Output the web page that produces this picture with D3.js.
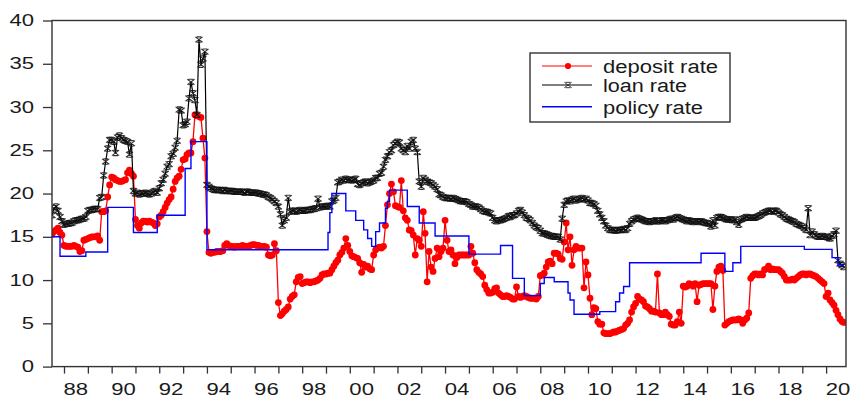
<!DOCTYPE html>
<html>
<head>
<meta charset="utf-8">
<script src="https://cdn.jsdelivr.net/npm/d3@7"></script>
<style>
  body { margin: 0; background: #fff; }
  svg { display: block; font-family: "Liberation Sans", Arial, sans-serif; }
</style>
</head>
<body>
<div id="chart"></div>
<script>
// monthly observations, first one is 1987M07
const firstMonth = new Date(1987, 6, 1);

const depositRate = [
  15.3, 15.6, 15.8, 16.0, 15.5, 15.2,
  14.0, 13.9, 13.9, 13.9, 13.9, 14.0, 13.9, 13.8, 13.3, 13.4, 14.6, 14.7,
  14.8, 14.9, 15.0, 15.0, 15.0, 15.1, 14.6, 17.9, 17.9, 18.0, 19.6, 21.0,
  21.9, 21.8, 21.6, 21.5, 21.4, 21.4, 21.5, 21.6, 22.4, 22.7, 22.3, 22.0,
  17.0, 16.3, 16.0, 16.6, 16.8, 16.8, 16.7, 16.8, 16.7, 16.6, 16.3, 16.5,
  17.3, 17.5, 17.9, 18.4, 18.9, 19.3, 19.6, 20.5, 21.4, 21.8, 22.0, 22.8,
  23.9, 24.0, 24.5, 24.7, 24.7, 26.0, 29.1, 29.0, 28.9, 28.8, 26.4, 24.1,
  15.6, 13.2, 13.1, 13.2, 13.2, 13.3, 13.3, 13.3, 13.4, 14.0, 14.2, 14.0,
  13.9, 13.9, 13.8, 13.9, 13.9, 13.9, 14.0, 13.9, 13.9, 13.9, 14.0, 14.1,
  14.1, 14.0, 14.0, 13.9, 13.9, 13.9, 13.8, 12.9, 12.8, 12.9, 14.2, 13.4,
  7.4, 5.9, 6.1, 6.4, 6.6, 6.9, 7.8, 8.1, 8.3, 9.8, 10.3, 10.4,
  9.6, 9.7, 9.8, 9.8, 9.7, 9.8, 9.8, 9.9, 10.0, 10.2, 10.6, 10.7,
  10.7, 10.8, 10.8, 11.2, 11.6, 12.0, 12.3, 12.9, 13.2, 13.7, 14.8, 14.0,
  13.3, 12.8, 12.7, 12.6, 12.5, 12.0, 10.9, 11.8, 11.5, 11.6, 11.3, 11.2,
  12.9, 13.5, 13.7, 13.8, 13.7, 13.9, 16.3, 18.7, 20.0, 21.1, 20.2, 18.6,
  18.5, 18.4, 21.5, 18.0, 17.2, 16.9, 15.8, 15.7, 15.2, 12.9, 14.8, 14.6,
  13.9, 17.9, 15.4, 9.8, 13.3, 11.5, 11.0, 12.5, 13.7, 12.7, 13.3, 13.7,
  16.9, 14.6, 13.3, 13.5, 12.9, 11.9, 12.6, 12.9, 12.9, 12.9, 12.9, 12.9,
  12.9, 13.9, 13.1, 12.0, 11.2, 10.9, 10.7, 10.4, 9.4, 8.9, 8.5, 8.5,
  8.6, 9.0, 9.1, 8.5, 8.3, 8.1, 8.1, 8.2, 8.1, 8.0, 7.8, 7.8,
  9.2, 8.1, 8.0, 8.1, 8.2, 8.1, 8.0, 7.9, 7.9, 7.9, 7.8, 8.1,
  10.5, 10.6, 10.8, 11.5, 12.1, 12.2, 11.9, 13.1, 13.1, 13.0, 12.5, 12.4,
  14.4, 16.6, 13.5, 15.0, 11.7, 13.5, 13.9, 13.7, 13.7, 13.7, 9.1, 12.1,
  10.6, 7.9, 6.0, 6.8, 6.7, 5.2, 4.9, 4.9, 3.9, 3.8, 3.8, 3.8,
  3.9, 4.0, 4.0, 4.1, 4.2, 4.3, 4.4, 4.8, 5.0, 5.4, 6.3, 6.9,
  7.3, 8.1, 7.8, 7.7, 7.5, 7.0, 6.9, 6.7, 6.4, 6.4, 6.3, 10.7,
  6.2, 6.0, 6.0, 6.3, 6.0, 5.8, 4.9, 4.8, 4.8, 5.2, 6.3, 5.0,
  9.3, 9.2, 9.3, 9.6, 9.5, 9.3, 9.6, 7.5, 9.4, 9.5, 9.6, 9.6,
  9.6, 9.6, 9.6, 6.6, 9.3, 11.0, 11.5, 11.6, 11.1, 4.8, 5.0, 5.2,
  5.3, 5.4, 5.4, 5.4, 5.5, 5.4, 5.0, 5.4, 5.6, 6.2, 10.2, 10.5,
  10.7, 10.7, 10.6, 10.7, 10.6, 11.2, 11.3, 11.6, 11.2, 11.3, 11.2, 11.2,
  11.2, 11.0, 10.8, 10.4, 10.0, 10.0, 10.0, 10.1, 10.0, 10.2, 10.4, 10.6,
  10.7, 10.7, 10.6, 10.7, 10.7, 10.6, 10.5, 10.4, 10.2, 10.0, 9.8, 9.6,
  8.1, 8.5, 7.7, 7.4, 7.1, 6.5, 6.0, 5.5, 5.2, 5.1
];

const loanRate = [
  17.5, 18.3, 18.5, 18.0, 17.3, 16.8,
  16.4, 16.5, 16.5, 16.6, 16.6, 16.8, 16.9, 16.9, 17.0, 17.1, 17.1, 17.3,
  18.0, 18.1, 18.1, 18.2, 18.2, 18.2, 19.5, 19.6, 22.1, 23.7, 25.2, 26.2,
  26.2, 26.0, 24.7, 26.5, 26.7, 26.4, 26.2, 26.1, 26.0, 24.5, 25.8, 20.3,
  20.0, 20.1, 19.9, 20.0, 20.0, 20.1, 20.0, 19.9, 20.0, 20.2, 20.3, 20.1,
  20.6, 21.2, 21.6, 22.3, 23.1, 23.4, 24.3, 24.6, 25.3, 26.1, 29.7, 29.6,
  27.9, 28.0, 28.3, 31.0, 32.9, 31.6, 30.8, 29.1, 37.8, 34.9, 35.6, 36.4,
  21.0, 20.8, 20.6, 20.5, 20.4, 20.4, 20.4, 20.4, 20.3, 20.4, 20.3, 20.3,
  20.3, 20.3, 20.2, 20.2, 20.2, 20.2, 20.2, 20.1, 20.2, 20.2, 20.1, 20.1,
  20.1, 20.1, 20.0, 20.0, 19.9, 19.9, 19.8, 19.6, 19.5, 19.3, 19.1, 18.9,
  18.5, 17.6, 16.3, 16.9, 17.2, 19.5, 17.9, 18.0, 18.0, 17.9, 18.0, 18.1,
  18.0, 18.0, 18.1, 18.1, 18.1, 18.2, 18.2, 18.3, 19.4, 18.4, 18.5, 18.5,
  18.5, 18.6, 18.5, 19.1, 19.2, 19.5, 21.3, 21.4, 21.6, 21.5, 21.7, 21.6,
  21.6, 21.5, 21.6, 21.7, 21.1, 21.0, 21.2, 21.3, 21.4, 21.2, 21.3, 21.4,
  21.5, 21.8, 21.8, 22.3, 22.4, 23.1, 23.9, 24.3, 24.8, 25.0, 25.6, 25.8,
  26.0, 25.9, 25.2, 25.0, 24.8, 25.5, 25.2, 26.0, 26.2, 25.2, 24.8, 21.4,
  20.8, 21.8, 21.6, 21.4, 21.3, 21.2, 21.0, 20.8, 20.5, 19.9, 19.8, 19.6,
  19.5, 19.5, 19.5, 19.4, 19.5, 19.4, 19.3, 19.2, 19.1, 19.1, 19.1, 19.0,
  18.8, 18.7, 18.5, 18.5, 18.5, 18.4, 18.2, 18.0, 17.9, 17.9, 17.8, 17.7,
  17.2, 16.9, 16.8, 16.9, 16.9, 17.0, 17.1, 17.2, 17.4, 17.3, 17.5, 17.5,
  17.7, 18.0, 18.1, 17.8, 17.5, 17.2, 17.1, 16.9, 16.6, 16.3, 16.1, 16.0,
  15.7, 15.4, 15.4, 15.3, 15.2, 15.1, 15.1, 15.0, 15.0, 15.0, 14.7, 17.1,
  18.7, 19.1, 19.2, 19.1, 19.3, 19.4, 19.2, 19.3, 19.4, 19.5, 19.3, 19.4,
  19.2, 18.9, 18.9, 18.8, 18.6, 18.0, 17.6, 17.2, 16.8, 16.3, 16.0, 15.8,
  15.8, 15.8, 15.7, 15.8, 15.8, 15.8, 15.9, 15.8, 16.0, 16.5, 16.8, 17.0,
  17.1, 17.2, 17.1, 17.0, 16.9, 16.8, 16.8, 16.7, 16.8, 16.8, 16.9, 16.8,
  16.8, 16.9, 16.9, 16.8, 16.9, 17.0, 17.1, 17.0, 17.2, 17.3, 17.2, 17.1,
  17.0, 16.9, 16.8, 16.9, 16.8, 16.7, 16.8, 16.8, 16.7, 16.8, 16.7, 16.6,
  16.6, 16.5, 16.2, 16.9, 16.3, 17.2, 17.3, 17.3, 17.2, 17.1, 17.0, 17.0,
  17.0, 16.9, 17.0, 16.7, 16.4, 17.0, 17.1, 17.2, 17.3, 17.2, 17.2, 17.2,
  17.2, 17.3, 17.4, 17.5, 17.7, 17.8, 17.9, 18.0, 18.0, 17.9, 18.0, 18.0,
  17.8, 17.6, 17.5, 17.3, 17.1, 17.0, 16.9, 16.8, 16.7, 16.5, 16.4, 16.3,
  16.2, 16.0, 15.8, 18.3, 15.2, 15.6, 15.3, 15.1, 15.0, 15.0, 15.1, 15.0,
  15.0, 14.9, 14.8, 15.1, 15.3, 15.7, 12.3, 11.9, 11.7, 11.5
];

// policy rate is a step series: month it changed, and the new level
const policyDates = [
  '1987-07', '1987-11', '1988-12', '1989-11', '1990-12', '1991-12', '1993-02', '1993-05',
  '1994-01', '1999-02', '1999-03', '1999-04', '1999-11', '2000-04', '2000-08', '2000-10',
  '2000-12', '2001-02', '2001-04', '2001-07', '2001-08', '2001-09', '2002-06', '2002-12',
  '2003-08', '2005-01', '2006-05', '2006-11', '2007-05', '2008-01', '2008-03', '2008-08',
  '2009-03', '2009-04', '2009-06', '2010-07', '2011-03', '2011-05', '2011-07', '2011-10',
  '2014-10', '2015-10', '2016-02', '2016-06', '2019-02', '2020-04', '2020-07', '2020-10'
];
const policyRates = [
  15.0, 12.75, 13.25, 18.4, 15.5, 17.5, 22.9, 26.0,
  13.5, 15.5, 17.8, 20.0, 18.0, 16.9, 15.8, 14.8,
  13.9, 15.6, 16.6, 18.3, 19.1, 20.4, 18.5, 16.6,
  15.1, 13.0, 14.0, 10.2, 8.2, 9.6, 10.3, 9.8,
  8.5, 7.7, 6.05, 6.35, 7.5, 8.5, 9.25, 12.0,
  13.1, 11.0, 12.0, 13.9, 13.55, 12.6, 11.75, 11.75
];

const yTicks = [0, 5, 10, 15, 20, 25, 30, 35, 40];
const tickYears = d3.range(1988, 2021);
const labelYears = [1988, 1990, 1992, 1994, 1996, 1998, 2000, 2002, 2004, 2006, 2008, 2010, 2012, 2014, 2016, 2018, 2020];

const seriesNames = ['deposit rate', 'loan rate', 'policy rate'];
const seriesColors = ['#ff0000', '#000000', '#0000ff'];

const width = 850;
const height = 397;
const plot = { left: 52, right: 846, top: 20.5, bottom: 366.6 };
const stretch = 1.38;

const parseMonth = d3.timeParse('%Y-%m');
const deposit = depositRate.map((v, i) => ({ date: d3.timeMonth.offset(firstMonth, i), value: v }));
const loan = loanRate.map((v, i) => ({ date: d3.timeMonth.offset(firstMonth, i), value: v }));
const policy = policyDates.map((d, i) => ({ date: parseMonth(d), value: policyRates[i] }));

const x = d3.scaleTime()
  .domain([new Date(1987, 6, 1), new Date(2020, 10, 1)])
  .range([plot.left, plot.right]);
const y = d3.scaleLinear().domain([0, 40]).range([plot.bottom, plot.top]);

const svg = d3.select('#chart').append('svg')
  .attr('width', width)
  .attr('height', height);

svg.append('rect').attr('width', width).attr('height', height).attr('fill', '#fff');

svg.append('clipPath').attr('id', 'clip')
  .append('rect')
  .attr('x', plot.left).attr('y', plot.top)
  .attr('width', plot.right - plot.left).attr('height', plot.bottom - plot.top);

// stretch text horizontally like the original export
function widen(sel, factor) {
  sel.each(function () {
    const w = this.getComputedTextLength();
    this.setAttribute('textLength', w * factor);
    this.setAttribute('lengthAdjust', 'spacingAndGlyphs');
  });
}

// y axis
const yAxis = svg.append('g')
  .attr('transform', `translate(${plot.left},0)`)
  .call(d3.axisLeft(y).tickValues(yTicks).tickSize(9).tickPadding(9).tickSizeOuter(0));
yAxis.select('.domain').remove();
yAxis.selectAll('line').attr('stroke', '#333').attr('stroke-width', 1.3);
yAxis.selectAll('text')
  .attr('fill', '#1a1a1a')
  .style('font-size', '16px')
  .call(widen, stretch);

// x axis ticks (one per year), labels every two years centred on the year
const xAxis = svg.append('g')
  .attr('transform', `translate(0,${plot.bottom})`)
  .call(d3.axisBottom(x).tickValues(tickYears.map((yr) => new Date(yr, 0, 1))).tickSize(7).tickFormat(''));
xAxis.select('.domain').remove();
xAxis.selectAll('line').attr('stroke', '#333').attr('stroke-width', 1.3);

svg.append('g')
  .selectAll('text')
  .data(labelYears)
  .join('text')
  .attr('x', (yr) => x(new Date(yr, 6, 1)))
  .attr('y', 395)
  .attr('text-anchor', 'middle')
  .attr('fill', '#1a1a1a')
  .style('font-size', '16px')
  .text((yr) => d3.format('02')(yr % 100))
  .call(widen, stretch);

const lines = svg.append('g').attr('clip-path', 'url(#clip)');

// deposit rate
lines.append('path')
  .datum(deposit)
  .attr('fill', 'none')
  .attr('stroke', seriesColors[0])
  .attr('stroke-width', 1.3)
  .attr('d', d3.line().x((d) => x(d.date)).y((d) => y(d.value)));
lines.append('g')
  .selectAll('circle')
  .data(deposit)
  .join('circle')
  .attr('cx', (d) => x(d.date))
  .attr('cy', (d) => y(d.value))
  .attr('r', 3.4)
  .attr('fill', seriesColors[0]);

// loan rate
const cross = 'M-3.6,-2.7L3.6,2.7M-3.6,2.7L3.6,-2.7M-2.4,-2.7H2.4M-2.4,2.7H2.4';
lines.append('path')
  .datum(loan)
  .attr('fill', 'none')
  .attr('stroke', seriesColors[1])
  .attr('stroke-width', 1.2)
  .attr('d', d3.line().x((d) => x(d.date)).y((d) => y(d.value)));
lines.append('g')
  .selectAll('path')
  .data(loan)
  .join('path')
  .attr('transform', (d) => `translate(${x(d.date)},${y(d.value)})`)
  .attr('d', cross)
  .attr('fill', 'none')
  .attr('stroke', '#111')
  .attr('stroke-opacity', 0.85)
  .attr('stroke-width', 1.1);

// policy rate
lines.append('path')
  .datum(policy)
  .attr('fill', 'none')
  .attr('stroke', seriesColors[2])
  .attr('stroke-width', 1.4)
  .attr('d', d3.line().curve(d3.curveStepAfter).x((d) => x(d.date)).y((d) => y(d.value)));

// frame
svg.append('rect')
  .attr('x', plot.left).attr('y', plot.top)
  .attr('width', plot.right - plot.left).attr('height', plot.bottom - plot.top)
  .attr('fill', 'none')
  .attr('stroke', '#333')
  .attr('stroke-width', 1.4);

// legend
const legend = svg.append('g').attr('transform', 'translate(530,53)');
legend.append('rect')
  .attr('width', 200).attr('height', 69)
  .attr('fill', '#fff')
  .attr('stroke', '#333')
  .attr('stroke-width', 1.4);
const legendRows = [13, 32, 53.7];
const legendWidths = [115, 84, 100];
seriesNames.forEach((name, i) => {
  const row = legend.append('g').attr('transform', `translate(0,${legendRows[i]})`);
  row.append('line')
    .attr('x1', 12).attr('x2', 62)
    .attr('stroke', seriesColors[i])
    .attr('stroke-width', i === 2 ? 1.4 : 1.1);
  if (i === 0) {
    row.append('circle').attr('cx', 38).attr('r', 3.1).attr('fill', seriesColors[0]);
  }
  if (i === 1) {
    row.append('path').attr('transform', 'translate(38,0)').attr('d', cross)
      .attr('fill', 'none').attr('stroke', '#222').attr('stroke-width', 0.9);
  }
  row.append('text')
    .attr('x', 73)
    .attr('y', 7)
    .attr('fill', '#1a1a1a')
    .style('font-size', '18px')
    .text(name)
    .attr('textLength', legendWidths[i])
    .attr('lengthAdjust', 'spacingAndGlyphs');
});
</script>
</body>
</html>
